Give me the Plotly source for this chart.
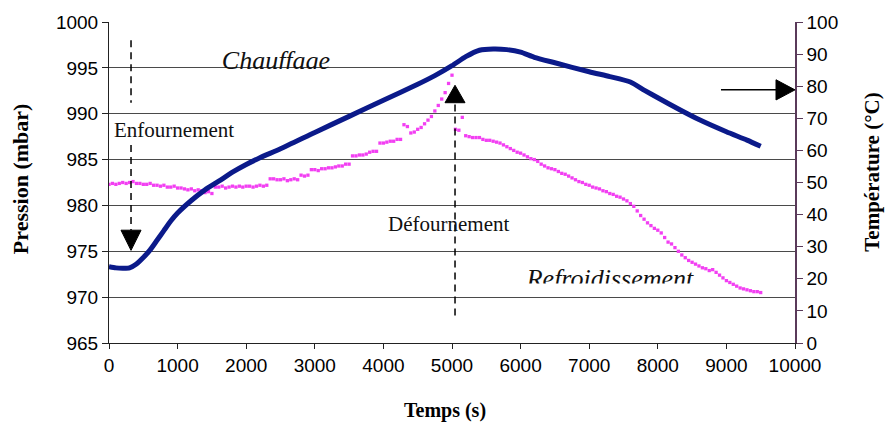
import plotly.graph_objects as go

# Temperature of the oven (right axis, °C) versus time (s)
temp_time = [0, 100, 200, 300, 400, 500, 600, 700, 800, 900, 1000, 1200, 1400,
             1600, 1800, 2000, 2200, 2500, 3000, 3500, 4000, 4500, 4750, 5000,
             5200, 5400, 5600, 5800, 6000, 6200, 6500, 7000, 7300, 7600, 7800,
             8000, 8300, 8600, 9000, 9300, 9500]
temp_values = [23.8, 23.4, 23.3, 23.4, 24.6, 26.6, 29.0, 32.0, 35.0, 38.0, 40.5,
               44.4, 47.7, 50.4, 53.2, 55.6, 57.7, 60.5, 65.6, 70.6, 75.6, 80.6,
               83.3, 86.4, 89.2, 91.2, 91.6, 91.4, 90.6, 89.0, 87.3, 84.5, 83.0,
               81.3, 78.8, 76.4, 72.9, 69.6, 65.8, 63.2, 61.3]

# Pressure (left axis, mbar), one reading every 50 s from 0 to 9500 s
pres_time = list(range(0, 9501, 50))
pres_values = [
    982.3, 982.4, 982.3, 982.4, 982.5, 982.4, 982.5, 982.6, 982.4, 982.4,
    982.3, 982.3, 982.4, 982.2, 982.2, 982.1, 982.2, 982.0, 982.0, 982.1,
    981.9, 981.9, 981.8, 981.7, 981.8, 981.6, 981.7, 981.6, 981.4, 981.5,
    981.3, 982.0, 982.0, 982.1, 981.9, 982.0, 982.1, 982.0, 982.1, 982.0,
    982.1, 982.1, 982.0, 982.1, 982.2, 982.1, 982.2, 982.9, 982.9, 982.8,
    982.8, 982.9, 982.7, 982.8, 982.9, 982.8, 983.3, 983.2, 983.3, 983.9,
    983.9, 983.8, 984.0, 984.0, 984.1, 984.1, 984.2, 984.3, 984.3, 984.5,
    984.5, 985.4, 985.4, 985.5, 985.5, 985.6, 985.8, 985.9, 985.9, 986.8,
    986.8, 986.9, 987.0, 987.0, 987.2, 987.2, 988.8, 988.6, 987.9, 988.0,
    988.3, 988.5, 988.9, 989.3, 989.7, 990.3, 990.9, 991.6, 992.3, 993.3,
    994.2, 988.3, 988.2, 989.6, 987.6, 987.5, 987.4, 987.4, 987.4, 987.2,
    987.1, 987.1, 987.0, 986.9, 986.8, 986.6, 986.4, 986.2, 986.0, 985.8,
    985.7, 985.5, 985.3, 985.1, 985.0, 984.8, 984.5, 984.3, 984.1, 984.0,
    983.9, 983.7, 983.5, 983.4, 983.2, 983.0, 982.8, 982.6, 982.5, 982.3,
    982.2, 982.0, 981.9, 981.8, 981.6, 981.5, 981.3, 981.2, 981.0, 980.9,
    980.7, 980.5, 980.2, 979.9, 979.4, 978.9, 978.5, 978.1, 977.8, 977.5,
    977.3, 977.0, 976.5, 976.0, 975.8, 975.4, 975.0, 974.6, 974.3, 974.0,
    973.8, 973.6, 973.4, 973.2, 973.1, 972.9, 973.0, 972.7, 972.4, 972.1,
    971.8, 971.6, 971.4, 971.2, 971.0, 970.9, 970.8, 970.7, 970.6, 970.6,
    970.5,
]

x_ticks = list(range(0, 10001, 1000))
p_ticks = list(range(965, 1001, 5))
t_ticks = list(range(0, 101, 10))

SERIF = "Liberation Serif, Times New Roman, serif"
SANS = "Liberation Sans, Arial, sans-serif"
RIGHT_AXIS = "#5a3a5a"

fig = go.Figure()

fig.add_trace(go.Scatter(
    x=pres_time, y=pres_values, mode="markers", yaxis="y",
    marker=dict(symbol="square", size=3.3, color="#f23ff2", line=dict(width=0)),
    showlegend=False, hoverinfo="x+y",
))
fig.add_trace(go.Scatter(
    x=temp_time, y=temp_values, mode="lines", yaxis="y2",
    line=dict(color="#0b1a8a", width=5, shape="spline", smoothing=0.6),
    showlegend=False, hoverinfo="x+y",
))

# phase labels, drawn as text traces so that the white bands can trim them
fig.add_trace(go.Scatter(
    x=[2434], y=[995.55], mode="text", text=["<i>Chauffage</i>"], yaxis="y",
    textfont=dict(family=SERIF, size=26, color="#111"), textposition="middle center",
    showlegend=False, hoverinfo="skip",
))
fig.add_trace(go.Scatter(
    x=[7303], y=[971.78], mode="text", text=["<i>Refroidissement</i>"], yaxis="y",
    textfont=dict(family=SERIF, size=26, color="#111"), textposition="middle center",
    showlegend=False, hoverinfo="skip",
))

dash_line = dict(color="black", width=1.5, dash="7px,5px")
shapes = [
    # bands trimming the bottom of the phase labels
    dict(type="rect", xref="x", yref="y", x0=1500, x1=3450, y0=993.6, y1=994.88,
         fillcolor="white", line=dict(width=0), layer="above"),
    dict(type="rect", xref="x", yref="y", x0=5950, x1=8700, y0=970.15, y1=971.5,
         fillcolor="white", line=dict(width=0), layer="above"),
    # loading arrow (Enfournement)
    dict(type="line", xref="x", yref="y", x0=321, x1=321, y0=998.0, y1=991.2,
         line=dash_line),
    dict(type="line", xref="x", yref="y", x0=321, x1=321, y0=986.6, y1=977.3,
         line=dash_line),
    dict(type="path", xref="x", yref="y", path="M 175,977.3 L 467,977.3 L 321,975.1 Z",
         fillcolor="black", line=dict(color="black", width=1)),
    # unloading arrow (Défournement)
    dict(type="line", xref="x", yref="y", x0=5044, x1=5044, y0=968.0, y1=991.2,
         line=dash_line),
    dict(type="path", xref="x", yref="y", path="M 4898,991.2 L 5190,991.2 L 5044,993.1 Z",
         fillcolor="black", line=dict(color="black", width=1)),
    # arrow pointing to the temperature axis
    dict(type="line", xref="x", yref="y", x0=8921, x1=9740, y0=992.6, y1=992.6,
         line=dict(color="black", width=1.5)),
    dict(type="path", xref="x", yref="y", path="M 9723,991.5 L 9723,993.7 L 10000,992.6 Z",
         fillcolor="black", line=dict(color="black", width=1)),
]

annotations = [
    dict(x=948, y=988.2, xref="x", yref="y", text="Enfournement", showarrow=False,
         font=dict(family=SERIF, size=21, color="#111")),
    dict(x=4956, y=978.0, xref="x", yref="y", text="Défournement", showarrow=False,
         font=dict(family=SERIF, size=21, color="#111")),
    dict(x=0.49, y=-0.21, xref="paper", yref="paper", text="<b>Temps (s)</b>",
         showarrow=False, font=dict(family=SERIF, size=20, color="black"),
         xanchor="center", yanchor="middle"),
    dict(x=-0.128, y=0.511, xref="paper", yref="paper", text="<b>Pression (mbar)</b>",
         showarrow=False, textangle=-90, font=dict(family=SERIF, size=22, color="black"),
         xanchor="center", yanchor="middle"),
    dict(x=1.112, y=0.533, xref="paper", yref="paper", text="<b>Température (°C)</b>",
         showarrow=False, textangle=-90, font=dict(family=SERIF, size=21, color="black"),
         xanchor="center", yanchor="middle"),
]

fig.update_layout(
    width=887, height=426,
    margin=dict(l=109, r=92, t=22, b=83),
    paper_bgcolor="white", plot_bgcolor="white",
    showlegend=False,
    shapes=shapes,
    annotations=annotations,
    xaxis=dict(
        range=[0, 10000], tickvals=x_ticks, ticktext=[str(v) for v in x_ticks],
        showgrid=False, zeroline=False, showline=True, linecolor="#222", linewidth=1,
        ticks="outside", ticklen=5, tickcolor="#222",
        tickfont=dict(family=SANS, size=19, color="black"),
    ),
    yaxis=dict(
        range=[965, 1000], tickvals=p_ticks, ticktext=[str(v) for v in p_ticks],
        showgrid=True, gridcolor="#4a4a4a", gridwidth=1, zeroline=False,
        showline=True, linecolor="#222", linewidth=1,
        ticks="outside", ticklen=6, tickcolor="#222",
        tickfont=dict(family=SANS, size=19, color="black"),
    ),
    yaxis2=dict(
        range=[0, 100], tickvals=t_ticks, ticktext=[str(v) for v in t_ticks],
        overlaying="y", side="right", showgrid=False, zeroline=False,
        showline=True, linecolor=RIGHT_AXIS, linewidth=1.5,
        ticks="outside", ticklen=6, tickcolor=RIGHT_AXIS,
        tickfont=dict(family=SANS, size=19, color="black"),
    ),
    yaxis3=dict(
        range=[0, 100], tickvals=t_ticks, overlaying="y", side="right",
        showgrid=False, zeroline=False, showline=False, showticklabels=False,
        ticks="inside", ticklen=6, tickcolor=RIGHT_AXIS,
    ),
)

fig.write_html("out.html")
